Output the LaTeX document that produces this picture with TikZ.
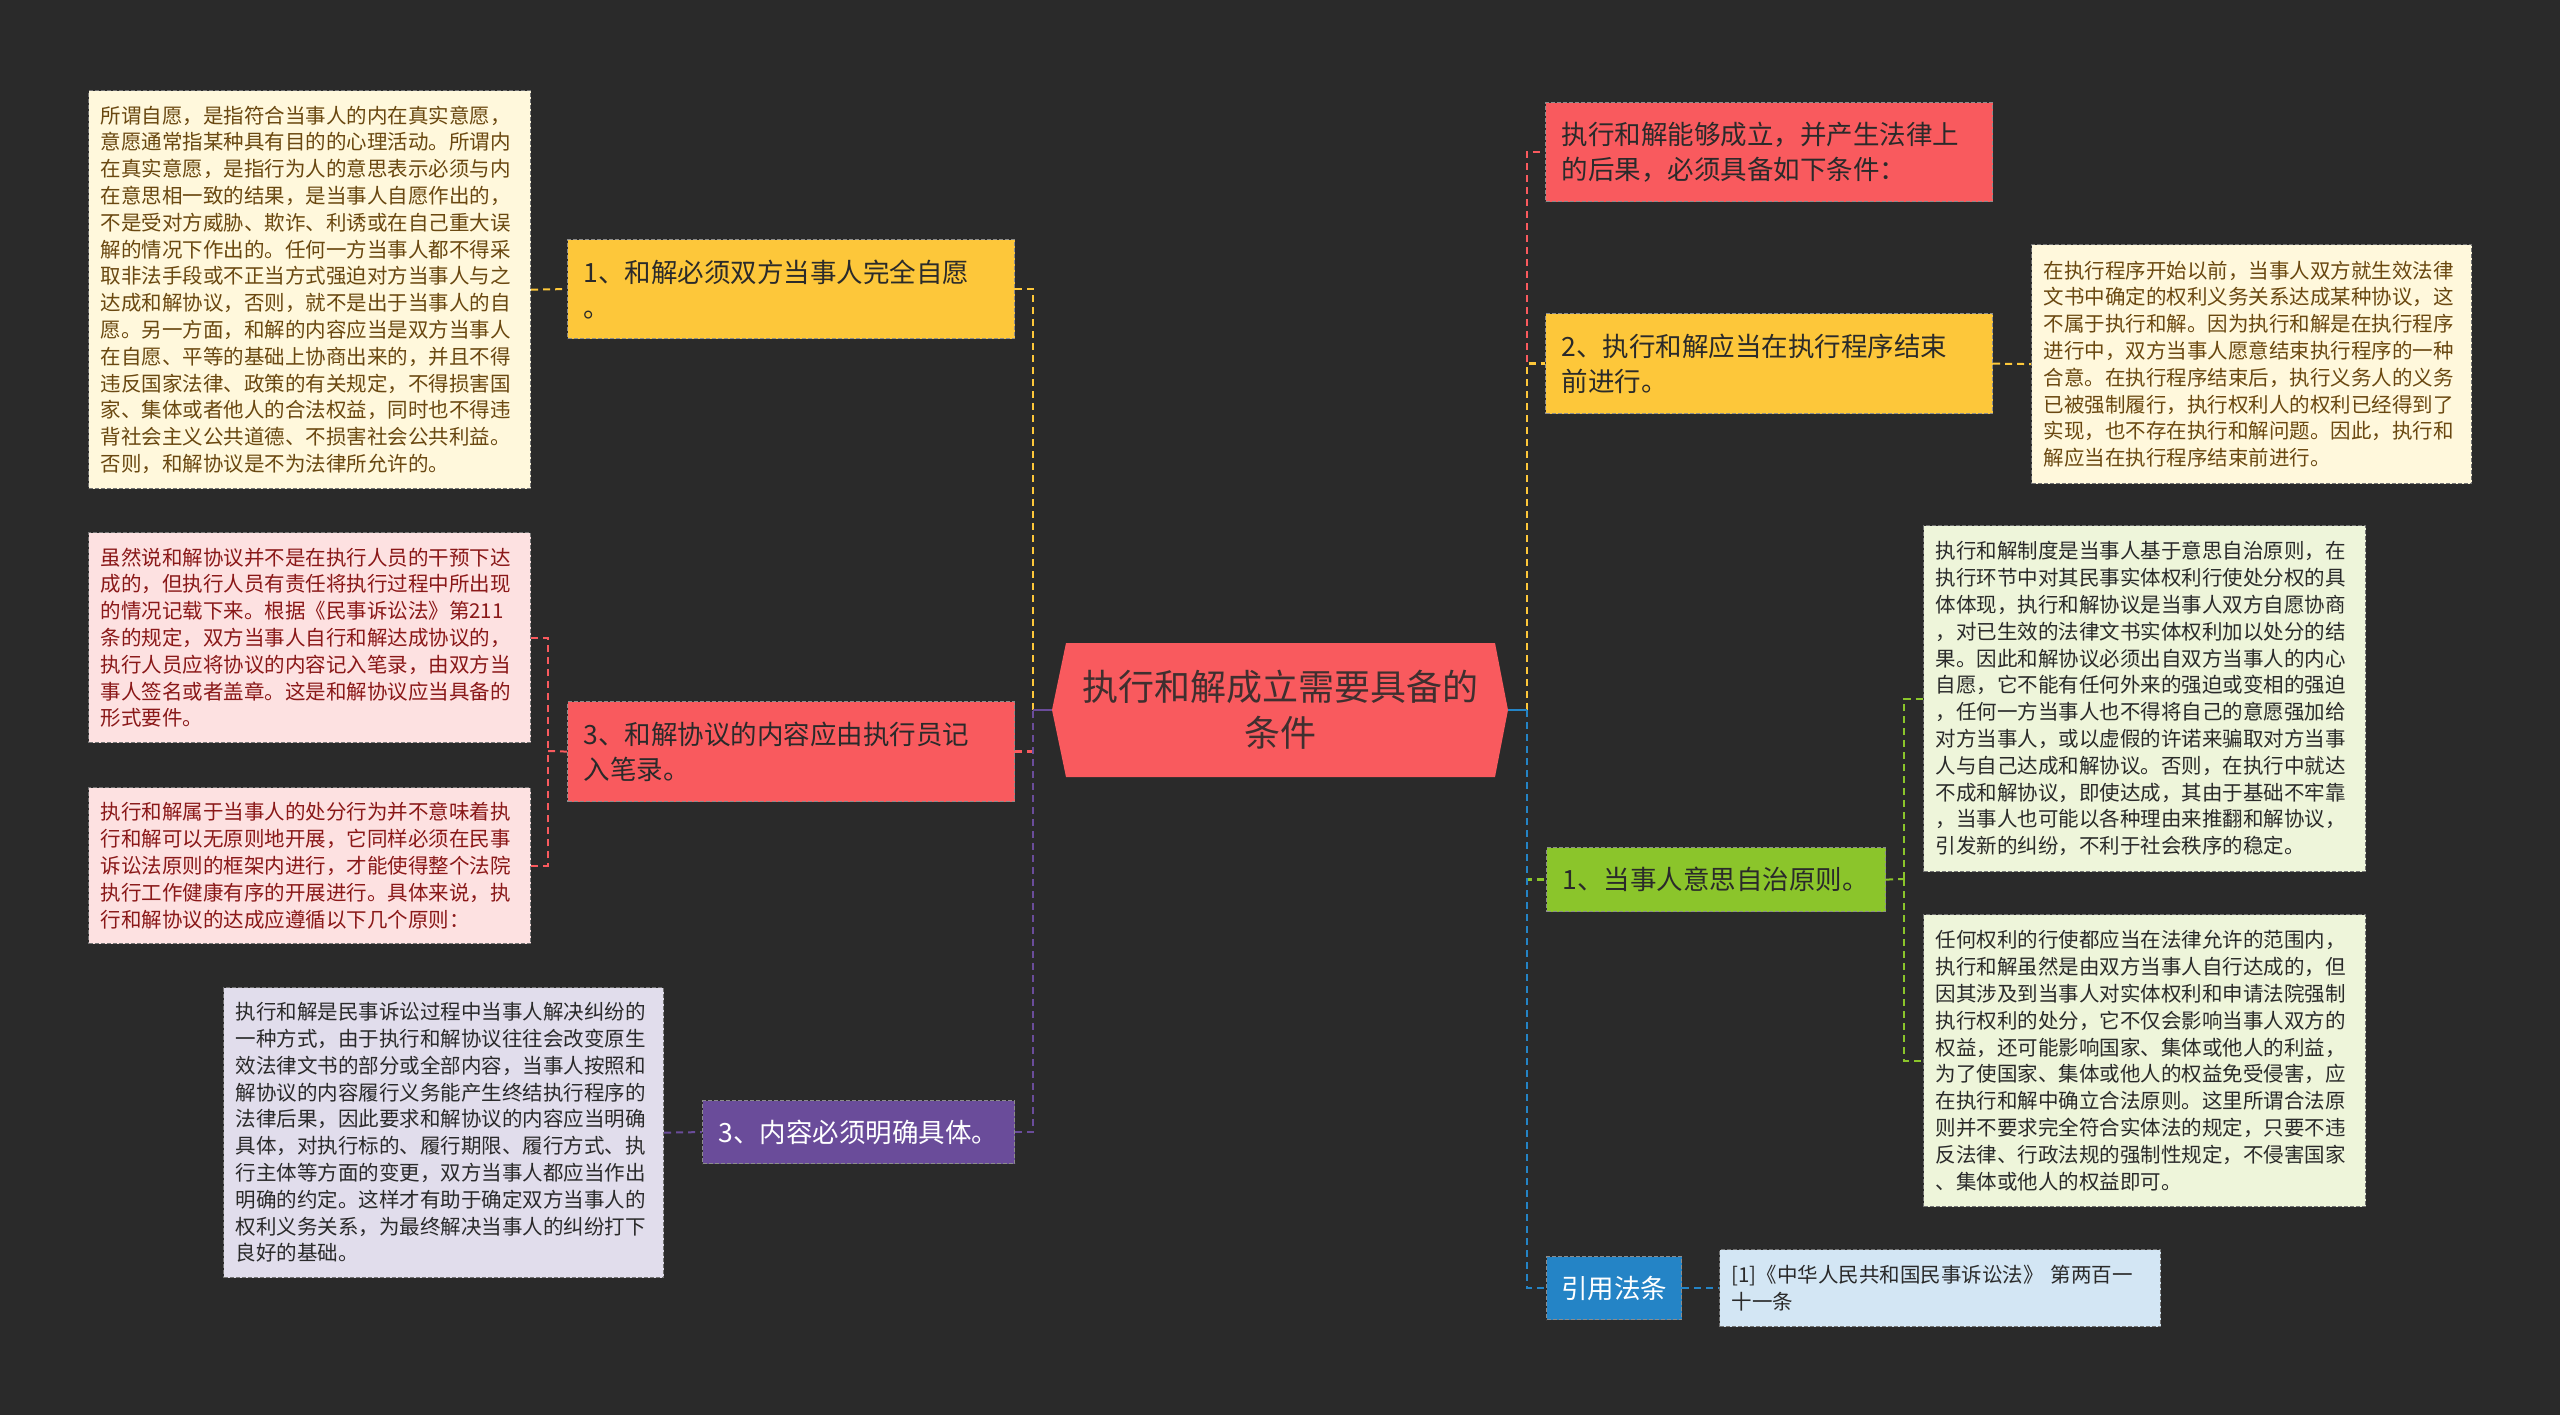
\documentclass[tikz,border=0pt]{standalone}
\usepackage{fontspec}
\setmainfont{Noto Sans CJK SC}
\definecolor{bgc}{HTML}{2A2A2A}
\definecolor{cRed}{HTML}{F95A5E}
\definecolor{cYel}{HTML}{FDC73A}
\definecolor{cGrn}{HTML}{8BC52B}
\definecolor{cBlu}{HTML}{2484C6}
\definecolor{cPur}{HTML}{6A4C9A}
\definecolor{fCream}{HTML}{FFF8DC}
\definecolor{tCream}{HTML}{6A4810}
\definecolor{fPink}{HTML}{FDE1E1}
\definecolor{tPink}{HTML}{8A1818}
\definecolor{fLav}{HTML}{E1DDEC}
\definecolor{fGrn}{HTML}{EEF5DA}
\definecolor{fBlu}{HTML}{D3E6F4}
\definecolor{tDark}{HTML}{2A2A2A}
\tikzset{
  infobox/.style={draw=black!55, dash pattern=on 4pt off 2pt, line width=1.2pt,
    anchor=north west, inner xsep=12pt, inner ysep=0pt, align=left,
    font=\fontsize{20.5}{26.8}\selectfont},
  branch/.style={draw=black!45, dash pattern=on 4pt off 2pt, line width=1.2pt,
    anchor=north west, inner xsep=16pt, inner ysep=0pt, align=left,
    font=\fontsize{26.5}{35}\selectfont, text=tDark},
  trunk/.style={line width=2.5pt, dash pattern=on 7pt off 5pt},
  twig/.style={line width=2pt, dash pattern=on 7pt off 5pt},
}
\begin{document}
\begin{tikzpicture}[x=1pt,y=-1pt]
\useasboundingbox (0,0) rectangle (2560,1415);
\fill[bgc] (0,0) rectangle (2560,1415);

% central topic
\fill[cRed] (1052,710) -- (1066,643) -- (1495,643) -- (1508,710) -- (1495,777) -- (1066,777) -- cycle;
\node[minimum width=456pt, minimum height=134pt, inner sep=0pt, align=center,
  font=\fontsize{36}{46}\selectfont, text=tDark!90!cRed] (center) at (1280,710)
  {执行和解成立需要具备的\\条件};

% ---------- left side ----------
\node[branch, fill=cYel, text width=415pt, minimum height=99pt] (ly) at (567,239)
  {1、和解必须双方当事人完全自愿\\。};
\node[branch, fill=cRed, text width=415pt, minimum height=100pt] (lr) at (567,701)
  {3、和解协议的内容应由执行员记\\入笔录。};
\node[branch, fill=cPur, text=white, text width=280pt, minimum height=63pt] (lp) at (702,1100)
  {3、内容必须明确具体。};

\node[infobox, fill=fCream, text=tCream, text width=418pt, minimum height=398pt] (b1) at (88,90)
  {所谓自愿，是指符合当事人的内在真实意愿，\\
   意愿通常指某种具有目的的心理活动。所谓内\\
   在真实意愿，是指行为人的意思表示必须与内\\
   在意思相一致的结果，是当事人自愿作出的，\\
   不是受对方威胁、欺诈、利诱或在自己重大误\\
   解的情况下作出的。任何一方当事人都不得采\\
   取非法手段或不正当方式强迫对方当事人与之\\
   达成和解协议，否则，就不是出于当事人的自\\
   愿。另一方面，和解的内容应当是双方当事人\\
   在自愿、平等的基础上协商出来的，并且不得\\
   违反国家法律、政策的有关规定，不得损害国\\
   家、集体或者他人的合法权益，同时也不得违\\
   背社会主义公共道德、不损害社会公共利益。\\
   否则，和解协议是不为法律所允许的。};
\node[infobox, fill=fPink, text=tPink, text width=418pt, minimum height=210pt] (b2) at (88,532)
  {虽然说和解协议并不是在执行人员的干预下达\\
   成的，但执行人员有责任将执行过程中所出现\\
   的情况记载下来。根据《民事诉讼法》第211\\
   条的规定，双方当事人自行和解达成协议的，\\
   执行人员应将协议的内容记入笔录，由双方当\\
   事人签名或者盖章。这是和解协议应当具备的\\
   形式要件。};
\node[infobox, fill=fPink, text=tPink, text width=418pt, minimum height=156pt] (b3) at (88,787)
  {执行和解属于当事人的处分行为并不意味着执\\
   行和解可以无原则地开展，它同样必须在民事\\
   诉讼法原则的框架内进行，才能使得整个法院\\
   执行工作健康有序的开展进行。具体来说，执\\
   行和解协议的达成应遵循以下几个原则：};
\node[infobox, fill=fLav, text=tDark, text width=416pt, minimum height=290pt] (b4) at (223,987)
  {执行和解是民事诉讼过程中当事人解决纠纷的\\
   一种方式，由于执行和解协议往往会改变原生\\
   效法律文书的部分或全部内容，当事人按照和\\
   解协议的内容履行义务能产生终结执行程序的\\
   法律后果，因此要求和解协议的内容应当明确\\
   具体，对执行标的、履行期限、履行方式、执\\
   行主体等方面的变更，双方当事人都应当作出\\
   明确的约定。这样才有助于确定双方当事人的\\
   权利义务关系，为最终解决当事人的纠纷打下\\
   良好的基础。};

% ---------- right side ----------
\node[branch, fill=cRed, text width=415pt, minimum height=99pt] (rr) at (1545,102)
  {执行和解能够成立，并产生法律上\\的后果，必须具备如下条件：};
\node[branch, fill=cYel, text width=415pt, minimum height=100pt] (ry) at (1545,313)
  {2、执行和解应当在执行程序结束\\前进行。};
\node[branch, fill=cGrn, text width=307pt, minimum height=64pt] (rg) at (1546,847)
  {1、当事人意思自治原则。};
\node[branch, fill=cBlu, text=white, inner xsep=14.5pt, text width=106pt, align=center, minimum height=63pt] (rb) at (1546,1256)
  {引用法条};

\node[infobox, fill=fCream, text=tCream, text width=416pt, minimum height=239pt] (rc) at (2031,244)
  {在执行程序开始以前，当事人双方就生效法律\\
   文书中确定的权利义务关系达成某种协议，这\\
   不属于执行和解。因为执行和解是在执行程序\\
   进行中，双方当事人愿意结束执行程序的一种\\
   合意。在执行程序结束后，执行义务人的义务\\
   已被强制履行，执行权利人的权利已经得到了\\
   实现，也不存在执行和解问题。因此，执行和\\
   解应当在执行程序结束前进行。};
\node[infobox, fill=fGrn, text=tDark, text width=418pt, minimum height=346pt] (g1) at (1923,525)
  {执行和解制度是当事人基于意思自治原则，在\\
   执行环节中对其民事实体权利行使处分权的具\\
   体体现，执行和解协议是当事人双方自愿协商\\
   ，对已生效的法律文书实体权利加以处分的结\\
   果。因此和解协议必须出自双方当事人的内心\\
   自愿，它不能有任何外来的强迫或变相的强迫\\
   ，任何一方当事人也不得将自己的意愿强加给\\
   对方当事人，或以虚假的许诺来骗取对方当事\\
   人与自己达成和解协议。否则，在执行中就达\\
   不成和解协议，即使达成，其由于基础不牢靠\\
   ，当事人也可能以各种理由来推翻和解协议，\\
   引发新的纠纷，不利于社会秩序的稳定。};
\node[infobox, fill=fGrn, text=tDark, text width=418pt, minimum height=292pt] (g2) at (1923,914)
  {任何权利的行使都应当在法律允许的范围内，\\
   执行和解虽然是由双方当事人自行达成的，但\\
   因其涉及到当事人对实体权利和申请法院强制\\
   执行权利的处分，它不仅会影响当事人双方的\\
   权益，还可能影响国家、集体或他人的利益，\\
   为了使国家、集体或他人的权益免受侵害，应\\
   在执行和解中确立合法原则。这里所谓合法原\\
   则并不要求完全符合实体法的规定，只要不违\\
   反法律、行政法规的强制性规定，不侵害国家\\
   、集体或他人的权益即可。};
\node[infobox, fill=fBlu, text=tDark, text width=417pt, minimum height=77pt] (ref) at (1719,1249)
  {[1]《中华人民共和国民事诉讼法》 第两百一\\十一条};

% ---------- connectors ----------
\coordinate (LT) at (1033,710);
\coordinate (RT) at (1527,710);
\coordinate (RB) at (548,751);
\coordinate (GB) at (1904,879);

\draw[trunk, cYel] (ly.east) -| (LT);
\draw[trunk, cRed] (lr.east) -- (lr.east -| LT);
\draw[trunk, cPur] (lp.east) -| (LT);
\draw[line width=2.5pt, cPur] (LT) -- (center.west);

\draw[twig, cYel] (b1.east) -- (ly.west);
\draw[twig, cRed] (lr.west) -- (RB);
\draw[twig, cRed] (b2.east) -| (RB);
\draw[twig, cRed] (b3.east) -| (RB);
\draw[twig, cPur] (b4.east) -- (lp.west);

\draw[trunk, cRed] (RT) |- (rr.west);
\draw[trunk, cYel] (RT) |- (ry.west);
\draw[trunk, cGrn] (RT) |- (rg.west);
\draw[trunk, cBlu] (RT) |- (rb.west);
\draw[line width=2.5pt, cBlu] (center.east) -- (RT);

\draw[twig, cYel] (ry.east) -- (rc.west);
\draw[twig, cGrn] (rg.east) -- (GB);
\draw[twig, cGrn] (GB) |- (g1.west);
\draw[twig, cGrn] (GB) |- (g2.west);
\draw[twig, cBlu] (rb.east) -- (ref.west);
\end{tikzpicture}
\end{document}
